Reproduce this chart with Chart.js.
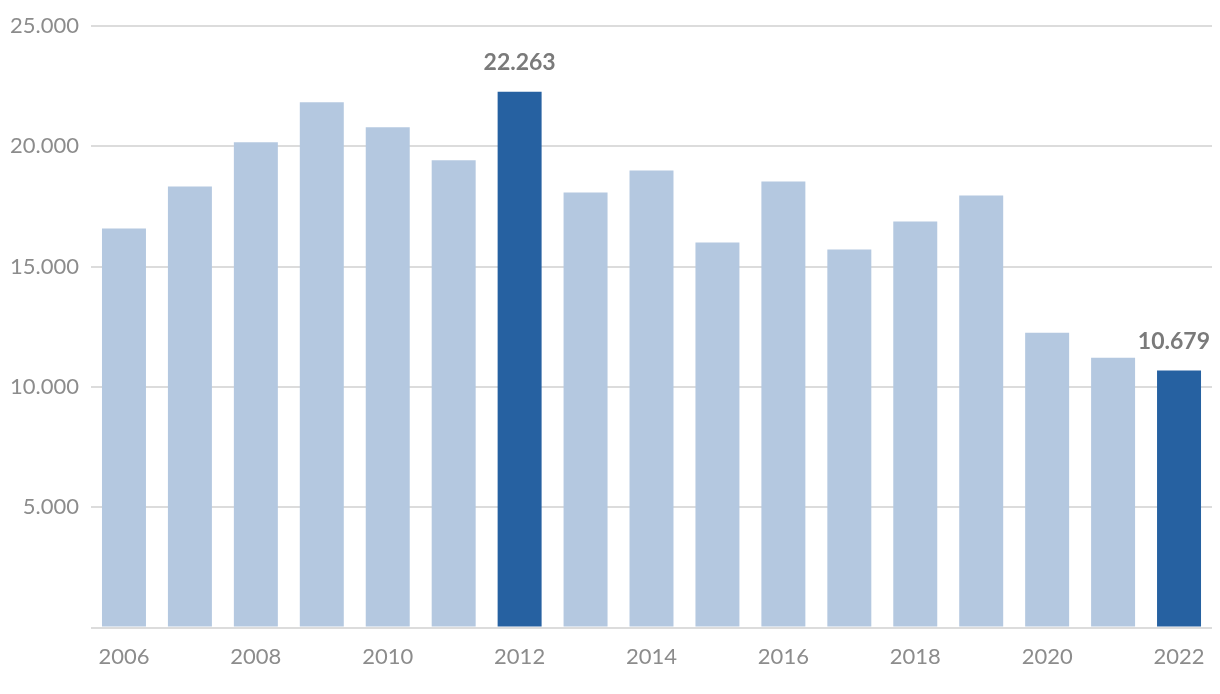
<!DOCTYPE html>
<html>
<head>
<meta charset="utf-8">
<script src="https://cdn.jsdelivr.net/npm/chart.js@4"></script>
<style>
  html, body { margin: 0; padding: 0; background: #fff; }
  #wrap { width: 1220px; height: 694px; }
</style>
</head>
<body>
<div id="wrap"><canvas id="barChart" width="1220" height="694"></canvas></div>
<script>
// Data
const years = ['2006', '2007', '2008', '2009', '2010', '2011', '2012', '2013', '2014',
    '2015', '2016', '2017', '2018', '2019', '2020', '2021', '2022'];
const values = [16583, 18330, 20170, 21830, 20790, 19420, 22263, 18080, 19000,
    16000, 18540, 15710, 16875, 17960, 12250, 11210, 10679];
const highlighted = ['2012', '2022'];
const yTicks = [0, 5000, 10000, 15000, 20000, 25000];

const lightBlue = '#b4c8e0';
const darkBlue = '#2661a1';

function fmt(v) {
    return v.toString().replace(/\B(?=(\d{3})+(?!\d))/g, '.');
}

// Value labels above the highlighted bars
const valueLabels = {
    id: 'valueLabels',
    afterDatasetsDraw(chart) {
        const ctx = chart.ctx;
        const meta = chart.getDatasetMeta(0);
        ctx.save();
        ctx.font = 'bold 23px Lato';
        ctx.fillStyle = '#7a7a7a';
        ctx.textAlign = 'center';
        ctx.textBaseline = 'alphabetic';
        years.forEach((y, i) => {
            if (!highlighted.includes(y)) return;
            const bar = meta.data[i];
            const text = fmt(values[i]);
            const w = ctx.measureText(text).width;
            let x = bar.x;
            if (x + w / 2 > chart.width - 10) x = chart.width - 10 - w / 2;
            ctx.fillText(text, x, bar.y - 22);
        });
        ctx.restore();
    }
};

let barChart;

function drawChart() {
    const ctx = document.getElementById('barChart').getContext('2d');
    if (barChart) {
        barChart.destroy();
    }
    barChart = new Chart(ctx, {
        type: 'bar',
        data: {
            labels: years,
            datasets: [{
                data: values,
                backgroundColor: years.map(y => highlighted.includes(y) ? darkBlue : lightBlue),
                barPercentage: 0.667,
                categoryPercentage: 1.0
            }]
        },
        options: {
            responsive: false,
            animation: false,
            layout: {
                padding: { top: 26, right: 8, bottom: 16, left: 0 }
            },
            plugins: {
                legend: { display: false },
                tooltip: { enabled: false }
            },
            scales: {
                x: {
                    grid: { display: false },
                    border: { display: false },
                    ticks: {
                        autoSkip: false,
                        maxRotation: 0,
                        padding: 8,
                        color: '#8c8c8c',
                        font: { family: 'Lato', size: 22 },
                        callback: function (value, index) {
                            return index % 2 === 0 ? years[index] : '';
                        }
                    }
                },
                y: {
                    min: 0,
                    max: 25000,
                    afterBuildTicks: function (scale) {
                        scale.ticks = yTicks.map(v => ({ value: v }));
                    },
                    afterFit: function (scale) {
                        scale.width = 91;
                    },
                    grid: {
                        color: '#dcdcdc',
                        lineWidth: 2,
                        drawTicks: false
                    },
                    border: { display: false },
                    ticks: {
                        padding: 12,
                        color: '#8c8c8c',
                        font: { family: 'Lato', size: 22 },
                        callback: function (value) {
                            return value === 0 ? '' : fmt(value);
                        }
                    }
                }
            }
        },
        plugins: [valueLabels]
    });
}

document.addEventListener('DOMContentLoaded', () => {
    drawChart();
});
</script>
</body>
</html>
